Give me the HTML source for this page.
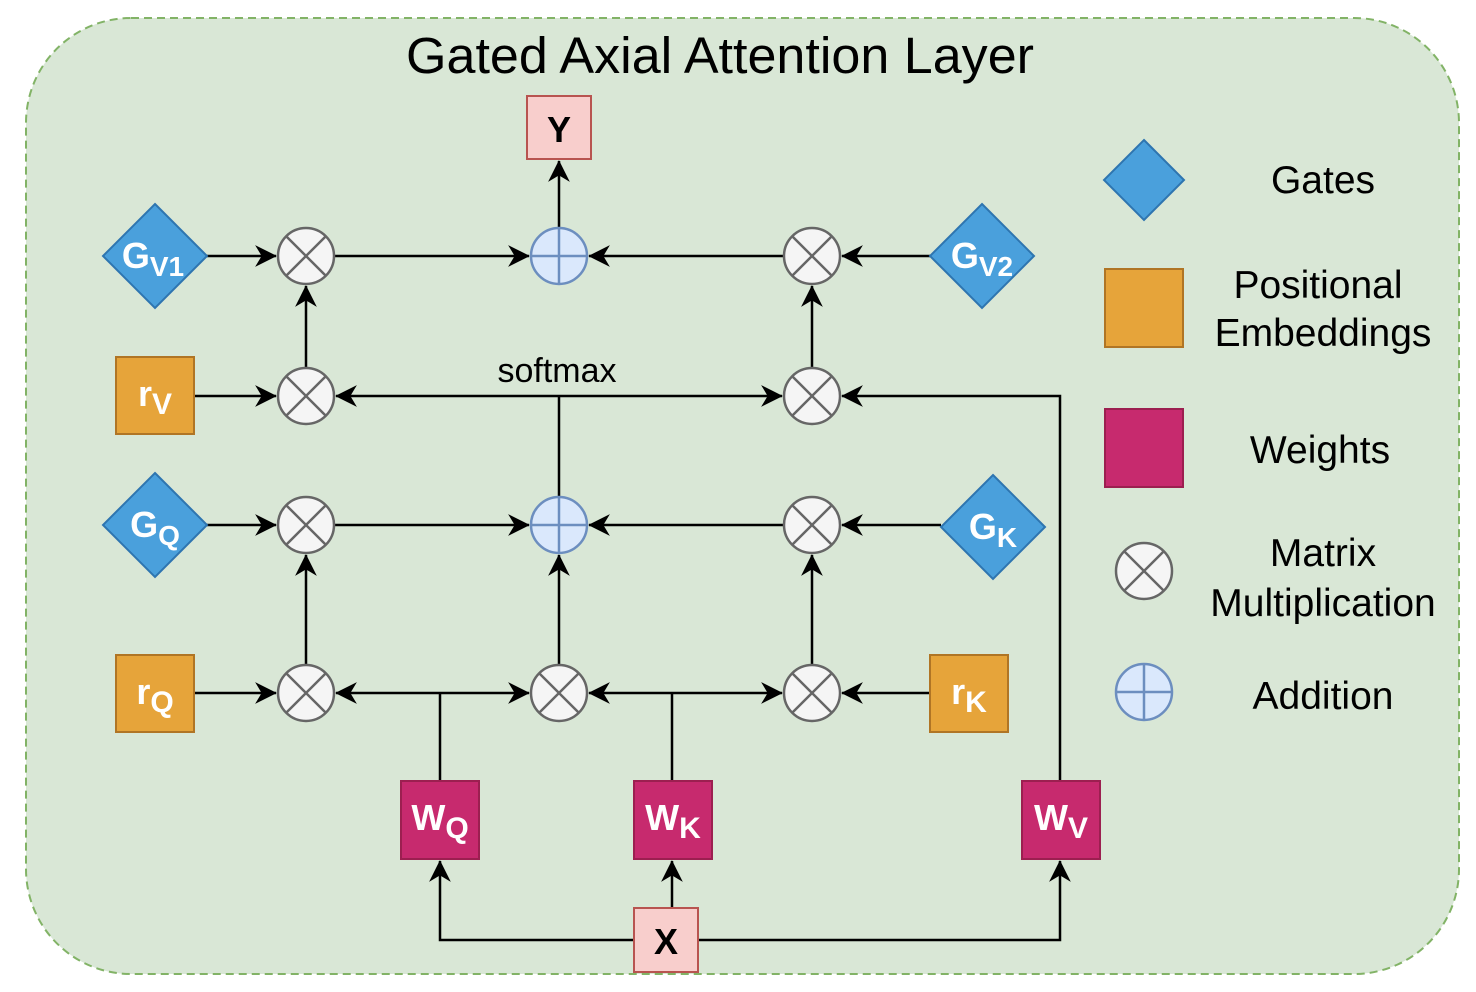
<!DOCTYPE html>
<html><head><meta charset="utf-8"><style>body{margin:0;background:#fff}svg{display:block}</style></head><body>
<svg width="1476" height="992" viewBox="0 0 1476 992" xmlns="http://www.w3.org/2000/svg" font-family="Liberation Sans, sans-serif">
<defs>
<marker id="a" viewBox="0 0 10 10" refX="9" refY="5" markerWidth="7.5" markerHeight="7.5" markerUnits="userSpaceOnUse" orient="auto" overflow="visible">
<path d="M0,0 L10,5 L0,10 L3,5 Z" fill="#000" transform="scale(2.9) translate(-6.5,-3.3)"/>
</marker>
<g id="m"><circle r="28" fill="#f5f5f5" stroke="#666" stroke-width="2.5"/><path d="M-19.8,-19.8L19.8,19.8M19.8,-19.8L-19.8,19.8" stroke="#666" stroke-width="2.5"/></g>
<g id="p"><circle r="28" fill="#dae8fc" stroke="#6c8ebf" stroke-width="2.5"/><path d="M-28,0H28M0,-28V28" stroke="#6c8ebf" stroke-width="2.5"/></g>
</defs>
<rect x="26" y="18" width="1433" height="956" rx="105" fill="#d9e7d6" stroke="#82b366" stroke-width="2" stroke-dasharray="8,5"/>
<text x="720" y="73" font-size="51" text-anchor="middle" textLength="628" lengthAdjust="spacingAndGlyphs">Gated Axial Attention Layer</text>

<g stroke="#000" stroke-width="2.5" fill="none">
<path d="M207,256H276" marker-end="url(#a)"/>
<path d="M306,368V286" marker-end="url(#a)"/>
<path d="M194,396H276" marker-end="url(#a)"/>
<path d="M334,256H529" marker-end="url(#a)"/>
<path d="M930,256H842" marker-end="url(#a)"/>
<path d="M784,256H589" marker-end="url(#a)"/>
<path d="M812,368V286" marker-end="url(#a)"/>
<path d="M559,228V161" marker-end="url(#a)"/>
<path d="M559,497V396"/>
<path d="M559,396H336" marker-end="url(#a)"/>
<path d="M559,396H782" marker-end="url(#a)"/>
<path d="M1060,781V396H842" marker-end="url(#a)"/>
<path d="M207,525H276" marker-end="url(#a)"/>
<path d="M334,525H529" marker-end="url(#a)"/>
<path d="M941,525H842" marker-end="url(#a)"/>
<path d="M784,525H589" marker-end="url(#a)"/>
<path d="M306,665V555" marker-end="url(#a)"/>
<path d="M559,665V555" marker-end="url(#a)"/>
<path d="M812,665V555" marker-end="url(#a)"/>
<path d="M194,693H276" marker-end="url(#a)"/>
<path d="M930,693H842" marker-end="url(#a)"/>
<path d="M440,781V693"/>
<path d="M440,693H336" marker-end="url(#a)"/>
<path d="M440,693H529" marker-end="url(#a)"/>
<path d="M672,781V693"/>
<path d="M672,693H589" marker-end="url(#a)"/>
<path d="M672,693H782" marker-end="url(#a)"/>
<path d="M672,908V861" marker-end="url(#a)"/>
<path d="M634,940H440V861" marker-end="url(#a)"/>
<path d="M698,940H1060V861" marker-end="url(#a)"/>
</g>
<text x="557" y="382" font-size="34" text-anchor="middle">softmax</text>

<use href="#m" x="306" y="256"/><use href="#p" x="559" y="256"/><use href="#m" x="812" y="256"/>
<use href="#m" x="306" y="396"/><use href="#m" x="812" y="396"/>
<use href="#m" x="306" y="525"/><use href="#p" x="559" y="525"/><use href="#m" x="812" y="525"/>
<use href="#m" x="306" y="693"/><use href="#m" x="559" y="693"/><use href="#m" x="812" y="693"/>

<rect x="527" y="96" width="64" height="63" fill="#f8cecc" stroke="#b85450" stroke-width="2"/>
<text x="559" y="142" font-size="36" font-weight="bold" text-anchor="middle">Y</text>
<rect x="634" y="908" width="64" height="64" fill="#f8cecc" stroke="#b85450" stroke-width="2"/>
<text x="666" y="954" font-size="36" font-weight="bold" text-anchor="middle">X</text>

<g fill="#4aa0dc" stroke="#2e75b0" stroke-width="2">
<path d="M155,204L207,256L155,308L103,256Z"/>
<path d="M982,204L1034,256L982,308L930,256Z"/>
<path d="M155,473L207,525L155,577L103,525Z"/>
<path d="M993,475L1045,527L993,579L941,527Z"/>
<path d="M1144,140L1184,180L1144,220L1104,180Z"/>
</g>
<g fill="#e6a43a" stroke="#b07525" stroke-width="2">
<rect x="116" y="357" width="78" height="77"/><rect x="116" y="655" width="78" height="77"/><rect x="930" y="655" width="78" height="77"/><rect x="1105" y="269" width="78" height="78"/>
</g>
<g fill="#c72a6e" stroke="#9c1f50" stroke-width="2">
<rect x="401" y="781" width="78" height="78"/><rect x="634" y="781" width="78" height="78"/><rect x="1022" y="781" width="78" height="78"/><rect x="1105" y="409" width="78" height="78"/>
</g>
<g fill="#fff" font-weight="bold" font-size="36" text-anchor="middle">
<text x="153" y="268">G<tspan font-size="28" dy="8">V1</tspan></text>
<text x="982" y="268">G<tspan font-size="28" dy="8">V2</tspan></text>
<text x="155" y="537">G<tspan font-size="28" dy="8">Q</tspan></text>
<text x="993" y="539">G<tspan font-size="28" dy="8">K</tspan></text>
<text x="155" y="406">r<tspan font-size="30" dy="8">V</tspan></text>
<text x="155" y="704">r<tspan font-size="30" dy="8">Q</tspan></text>
<text x="969" y="704">r<tspan font-size="30" dy="8">K</tspan></text>
<text x="440" y="830">W<tspan font-size="30" dy="8">Q</tspan></text>
<text x="673" y="830">W<tspan font-size="30" dy="8">K</tspan></text>
<text x="1061" y="830">W<tspan font-size="30" dy="8">V</tspan></text>
</g>
<use href="#m" x="1144" y="571"/><use href="#p" x="1144" y="692"/>
<g font-size="39" text-anchor="middle">
<text x="1323" y="193">Gates</text>
<text x="1318" y="298">Positional</text>
<text x="1323" y="346">Embeddings</text>
<text x="1320" y="463">Weights</text>
<text x="1323" y="566">Matrix</text>
<text x="1323" y="616">Multiplication</text>
<text x="1323" y="709">Addition</text>
</g>
</svg>
</body></html>
